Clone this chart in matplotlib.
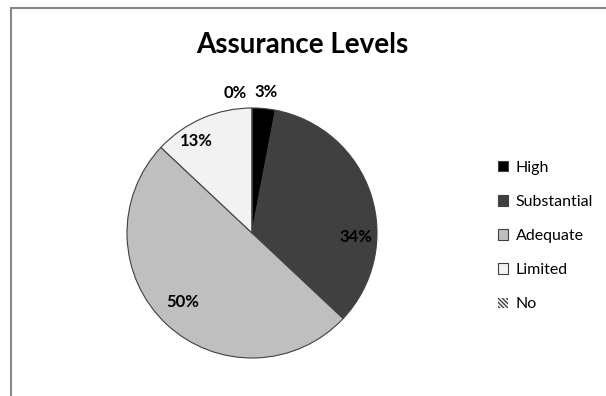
import numpy as np
import matplotlib.pyplot as plt
from matplotlib.patches import Rectangle

# --- data ---
categories = ["High", "Substantial", "Adequate", "Limited", "No"]
shares = [3, 34, 50, 13, 0]
colors = ["#000000", "#404040", "#bfbfbf", "#f2f2f2", "#ffffff"]
hatches = [None, None, None, None, "\\\\\\\\\\\\\\\\"]

# label placement (radius as fraction of pie radius, angle in degrees)
label_r = [1.13, 0.83, 0.78, 0.86, 1.13]
label_ang = [84.3, -2.0, 225.0, 121.0, 97.0]

W, H = 606, 396
fig = plt.figure(figsize=(W / 100, H / 100), dpi=100)
ax = fig.add_axes([0, 0, 1, 1])

cx, cy, R = 252, H - 233, 125
font = "Lato"

wedges, _ = ax.pie(shares, colors=colors, startangle=90, counterclock=False,
                   center=(cx, cy), radius=R, frame=True,
                   wedgeprops=dict(edgecolor="#404040", linewidth=0.8))
for w, h in zip(wedges, hatches):
    if h:
        w.set_hatch(h)
ax.set_xlim(0, W)
ax.set_ylim(0, H)
ax.axis("off")
ax.set_aspect("equal")

for v, r, a in zip(shares, label_r, label_ang):
    t = np.deg2rad(a)
    ax.text(cx + r * R * np.cos(t), cy + r * R * np.sin(t), f"{v}%",
            ha="center", va="center", fontsize=12, fontweight="bold",
            family=font, color="#000000")

ax.text(302, H - 45, "Assurance Levels", ha="center", va="center",
        fontsize=20, fontweight="bold", family=font)

# legend
leg = ax.legend(wedges, categories, loc="upper left",
                bbox_to_anchor=(484 / W, 1 - 146.5 / H), frameon=False,
                handlelength=0.62, handleheight=0.62, handletextpad=0.45,
                labelspacing=1.26, prop=dict(family=font, size=11.5))
for hnd, h in zip(leg.legend_handles, hatches):
    if h:
        hnd.set_linewidth(0)
    else:
        hnd.set_edgecolor("#404040")
        hnd.set_linewidth(0.8)

# chart border
fig.patches.append(Rectangle((11 / W, -0.1), 1.2, 1 - 8 / H + 0.1,
                             transform=fig.transFigure, fill=False,
                             edgecolor="#868686", linewidth=1.5))

fig.savefig("out.png", dpi=100)
